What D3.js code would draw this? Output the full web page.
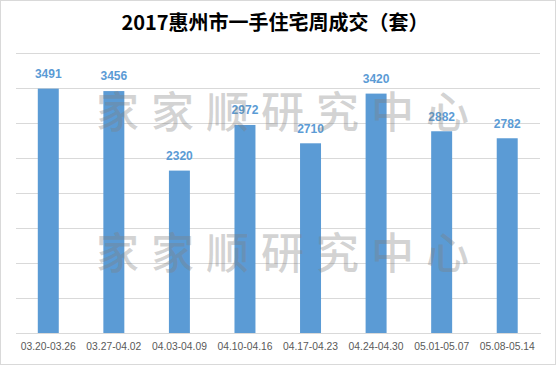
<!DOCTYPE html>
<html><head><meta charset="utf-8">
<script src="https://cdn.jsdelivr.net/npm/d3@7"></script>
<style>html,body{margin:0;padding:0;background:#fff;}svg{display:block;}</style>
</head><body>
<svg id="chart" width="556" height="365"></svg>
<script>
const title = "2017惠州市一手住宅周成交（套）";
const categories = ["03.20-03.26","03.27-04.02","04.03-04.09","04.10-04.16","04.17-04.23","04.24-04.30","05.01-05.07","05.08-05.14"];
const values = [3491,3456,2320,2972,2710,3420,2882,2782];
const yTicks = [0,500,1000,1500,2000,2500,3000,3500,4000];
const watermark = "家家顺研究中心";

const W = 556, H = 365;
const m = {left: 15.5, right: 16, top: 53, bottom: 32};
const svg = d3.select("#chart");

svg.append("rect").attr("x",0.5).attr("y",0.5).attr("width",W-1).attr("height",H-1)
  .attr("fill","#fff").attr("stroke","#d9d9d9").attr("stroke-width",1);

const x = d3.scaleBand().domain(categories).range([m.left, W-m.right]).paddingInner(0.68).paddingOuter(0.34);
const y = d3.scaleLinear().domain([0,4000]).range([H-m.bottom, m.top]);

// gridlines
const gy = d3.axisLeft(y).tickValues(yTicks).tickSize(-(W-m.right-m.left)).tickFormat("");
const gg = svg.append("g").attr("transform",`translate(${m.left},0)`).call(gy);
gg.select(".domain").remove();
gg.selectAll(".tick line").attr("stroke","#d9d9d9").attr("stroke-width",1)
  .attr("shape-rendering","crispEdges");

// bars
svg.append("g").selectAll("rect").data(values).join("rect")
  .attr("x",(d,i)=>x(categories[i])).attr("width",x.bandwidth())
  .attr("y",d=>y(d)).attr("height",d=>y(0)-y(d)).attr("fill","#5b9bd5");

// value labels
svg.append("g").selectAll("text").data(values).join("text")
  .attr("x",(d,i)=>x(categories[i])+x.bandwidth()/2).attr("y",d=>y(d)-10.7)
  .attr("text-anchor","middle").attr("font-family","Liberation Sans, Arial, sans-serif")
  .attr("font-size","12px").attr("font-weight","bold").attr("fill","#5b9bd5").text(d=>d);

// x axis
const xa = d3.axisBottom(x).tickSize(0).tickPadding(10);
const xg = svg.append("g").attr("transform",`translate(0,${y(0)})`).call(xa);
xg.select(".domain").attr("stroke","#d9d9d9").attr("shape-rendering","crispEdges");
xg.selectAll("text").attr("font-family","Liberation Sans, Arial, sans-serif")
  .attr("font-size","10.3px").attr("fill","#595959");

// watermarks
[113, 254].forEach(cy=>{
  svg.append("text").attr("x",96).attr("y",cy).attr("dy","0.36em")
    .attr("font-family","Noto Sans CJK SC").attr("font-size","43px").attr("font-weight","500")
    .attr("letter-spacing","12px").attr("fill","#7f7f7f").attr("fill-opacity",0.35).text(watermark);
});

// title
svg.append("text").attr("x",275).attr("y",22.5).attr("dy","0.36em").attr("text-anchor","middle")
  .attr("font-family","Noto Sans CJK SC").attr("font-size","20px").attr("font-weight","bold")
  .attr("fill","#000").text(title);
</script>
</body></html>
